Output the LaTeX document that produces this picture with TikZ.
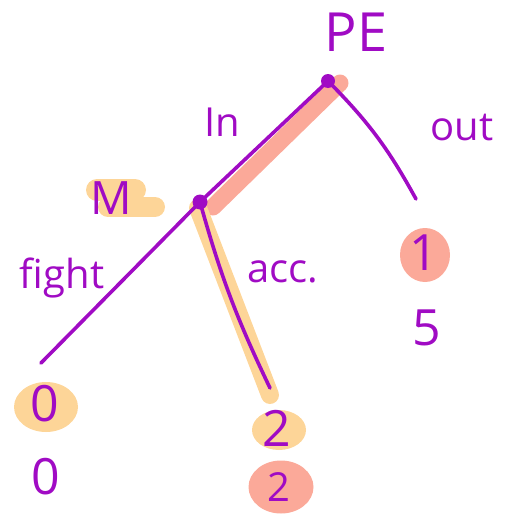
\documentclass[tikz,border=0pt]{standalone}
\usepackage{fontspec}
\setmainfont{Open Sans}
\usetikzlibrary{shapes.geometric}
\definecolor{mor}{HTML}{A00BC4}
\definecolor{somon}{HTML}{FBA999}
\definecolor{turuncu}{HTML}{FDD598}

\begin{document}
\begin{tikzpicture}[x=1pt,y=-1pt,
  dal/.style={mor,line width=3.6pt,line cap=round},
  vurgu/.style={line width=#1,line cap=round},
  oyuncu/.style={mor,font=\fontsize{54}{54}\selectfont},
  etiket/.style={mor,font=\fontsize{40}{40}\selectfont},
  odul/.style={mor,font=\fontsize{50}{50}\selectfont},
  leke/.style={ellipse,inner sep=0pt}]
\useasboundingbox (0,0) rectangle (506,514);
% dugumler
\coordinate (kok) at (328,81);
\coordinate (m) at (200,202);
\coordinate (cikisUc) at (416,199);
\coordinate (kavgaUc) at (41,363);
\coordinate (kabulUc) at (270,388);
% vurgular
\draw[vurgu=17pt,somon] ([shift={(13,5)}]m) -- ([shift={(12,2)}]kok);
\draw[vurgu=18pt,turuncu] ([shift={(-2,6)}]m) -- ([shift={(0,7)}]kabulUc);
\draw[vurgu=22pt,turuncu] (97,190) -- (135,190);
\draw[vurgu=20pt,turuncu] (108,207) -- (155,207);
\node[leke,fill=turuncu,minimum width=64pt,minimum height=50pt] (leke1) at (46,407) {};
\node[leke,fill=turuncu,minimum width=54pt,minimum height=40pt] (leke2) at (279,430) {};
\node[leke,fill=somon,minimum width=65pt,minimum height=53pt] (leke3) at (281,487) {};
\node[leke,fill=somon,minimum width=50pt,minimum height=54pt] (leke4) at (425,255) {};
% dallar
\draw[dal] (kok) -- (m);
\draw[dal] (kok) to[bend left=8] (cikisUc);
\draw[dal] (m) -- (kavgaUc);
\draw[dal] (m) to[bend right=5] (kabulUc);
\fill[mor] (kok) circle (7pt);
\fill[mor] (m) circle (7.5pt);
% etiketler
\node[oyuncu] (pe) at (356,32) {PE};
\node[oyuncu,font=\fontsize{46}{46}\selectfont] (mAd) at (111,198) {M};
\node[etiket] (in) at (222,122) {In};
\node[etiket] (out) at (462,128) {out};
\node[etiket] (fight) at (62,278) {fight};
\node[etiket] (acc) at (283,272) {acc.};
% oduller
\node[odul] (o1) at (45,404) {0};
\node[odul] (o2) at (46,477) {0};
\node[odul] (o3) at (277,428) {2};
\node[odul,font=\fontsize{40}{40}\selectfont] (o4) at (279,487) {2};
\node[odul] (o5) at (424,253) {1};
\node[odul] (o6) at (427,328) {5};
\end{tikzpicture}
\end{document}
